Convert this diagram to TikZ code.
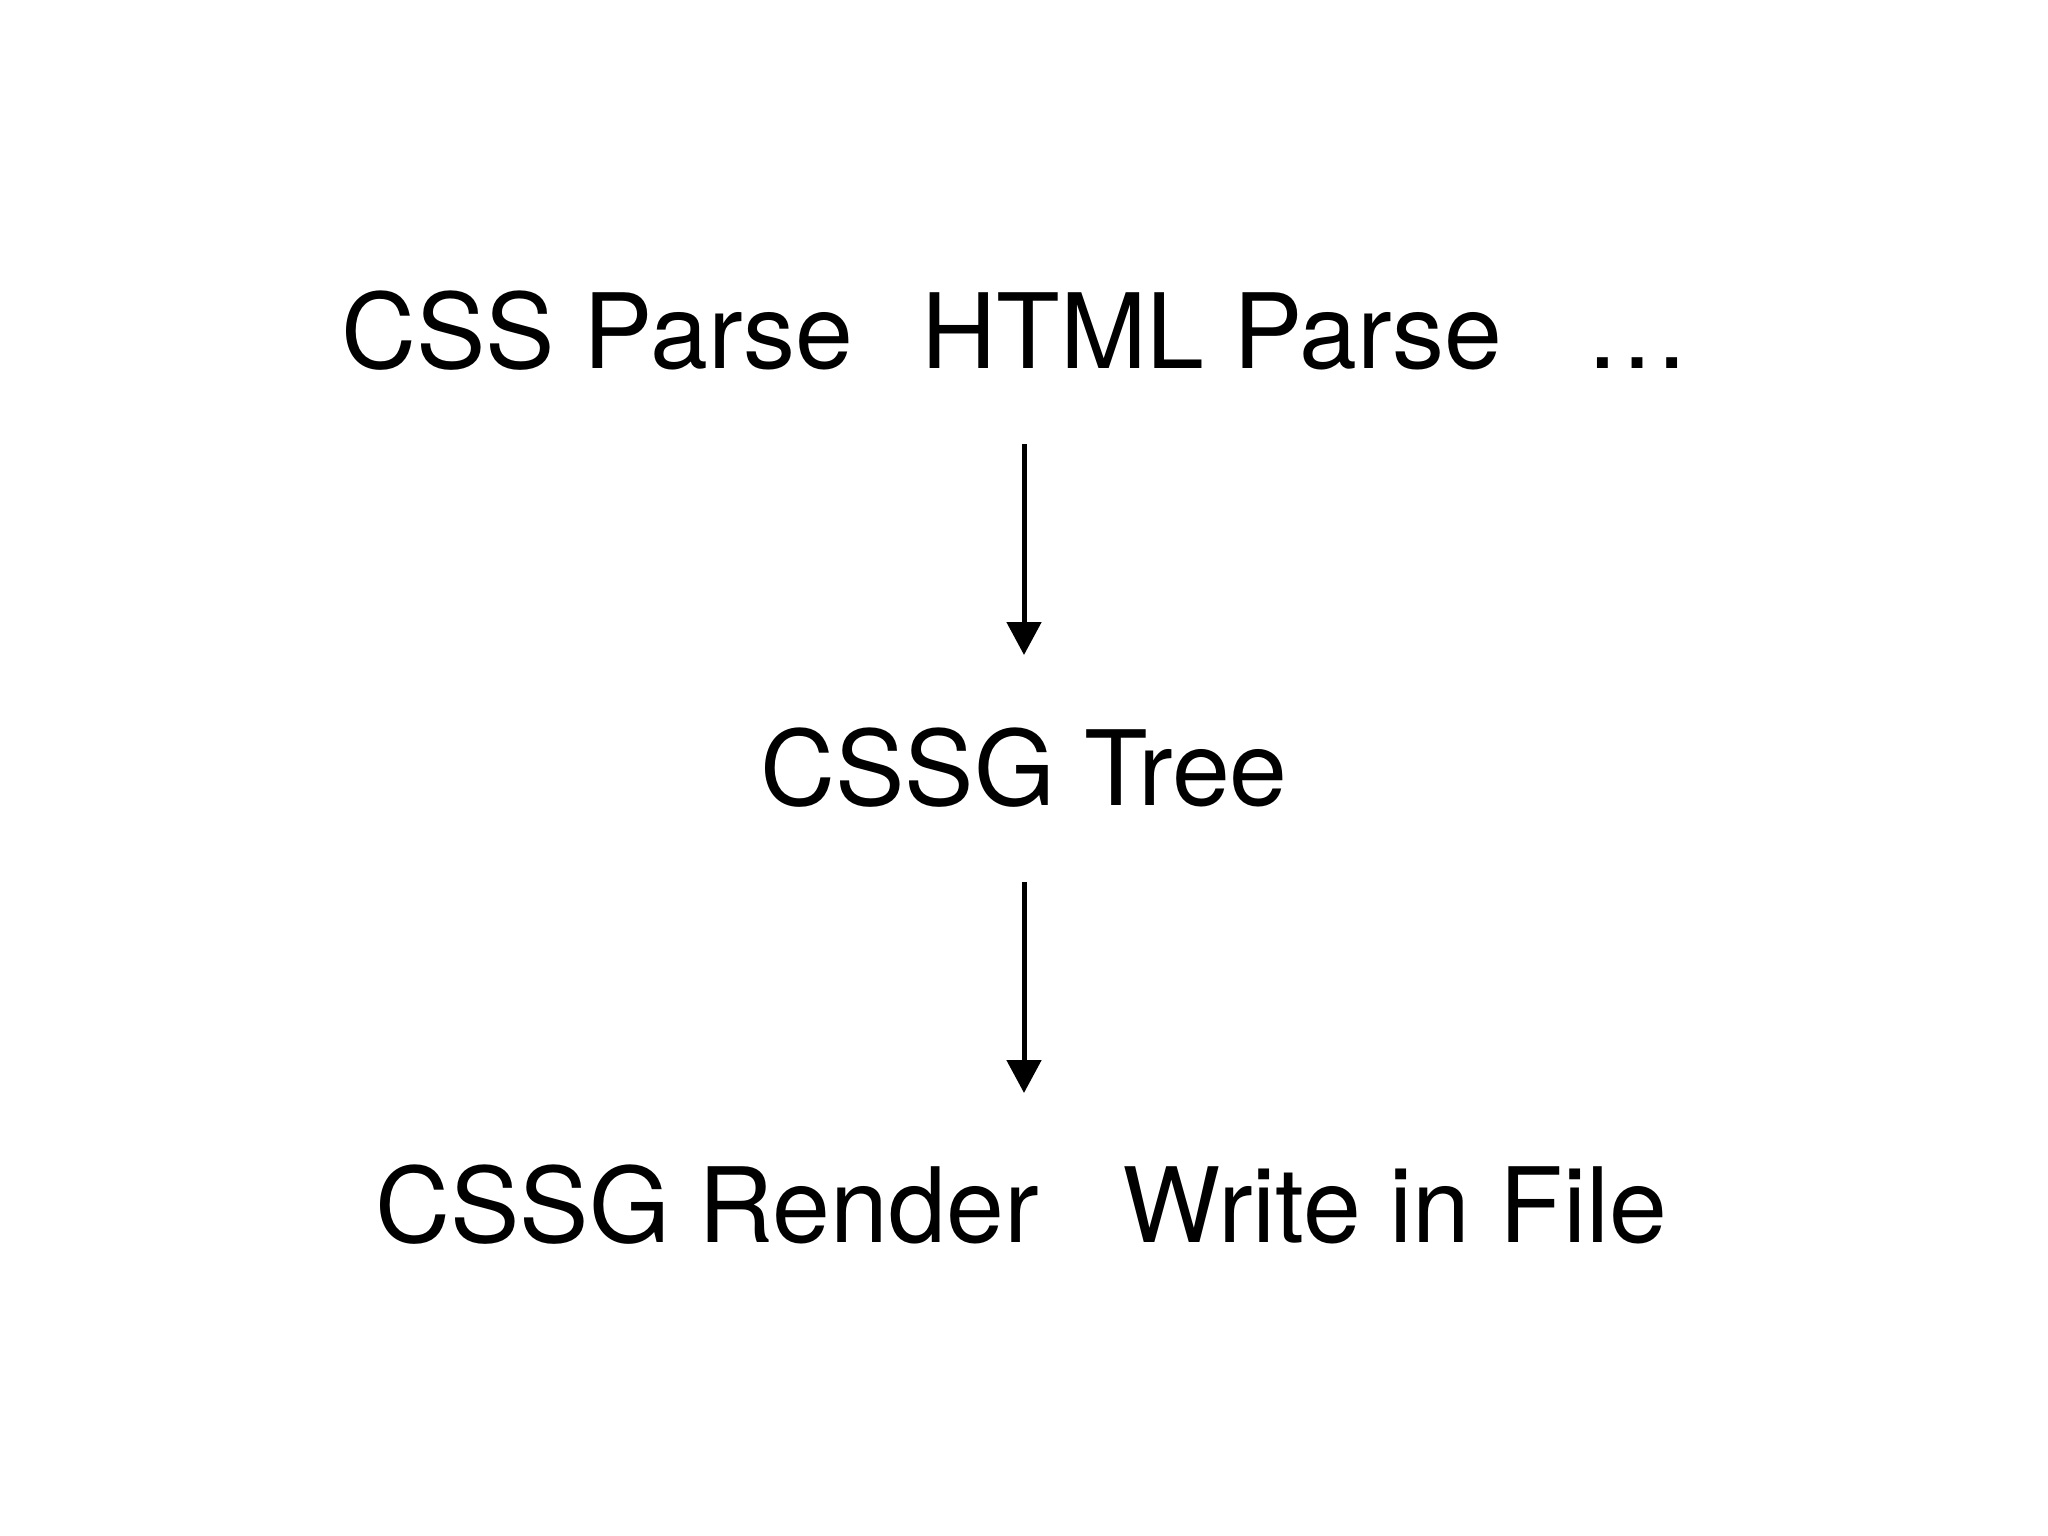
\documentclass[tikz,border=0pt]{standalone}
\usepackage{fontspec}
\setmainfont{TeX Gyre Heros}
\usetikzlibrary{arrows.meta}
\begin{document}
\begin{tikzpicture}[x=1pt,y=-1pt,
  lbl/.style={anchor=base,inner sep=0pt,font=\fontsize{104}{110}\selectfont},
  flow/.style={line width=5pt,-{Triangle[width=34pt,length=33pt]}}]
\useasboundingbox[fill=white] (0,0) rectangle (2048,1536);
\node[lbl] (css) at (597,368) {CSS Parse};
\node[lbl] (html) at (1212,368) {HTML Parse};
\node[lbl] (dots) at (1637,368) {\dots};
\node[lbl] (tree) at (1024,805) {CSSG Tree};
\node[lbl] (render) at (707,1242) {CSSG Render};
\node[lbl] (write) at (1395,1242) {Write in File};
\coordinate (a1) at (1024,444);
\coordinate (a2) at (1024,655);
\coordinate (b1) at (1024,882);
\coordinate (b2) at (1024,1093);
\draw[flow] (a1) -- (a2);
\draw[flow] (b1) -- (b2);
\end{tikzpicture}
\end{document}
